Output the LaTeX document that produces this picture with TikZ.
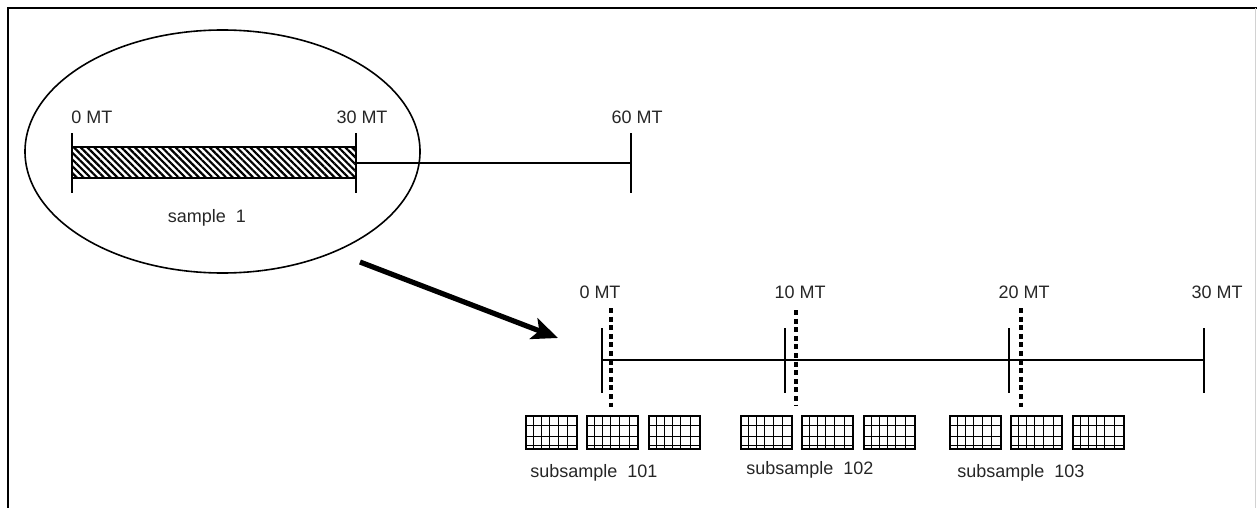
\documentclass[tikz,border=0pt]{standalone}
\usepackage{fontspec}
\setmainfont{Liberation Sans}
\usetikzlibrary{arrows.meta,positioning,calc,shapes.geometric,patterns.meta}
\tikzset{
  frameline/.style={draw=black,line width=1.2pt},
  scaleline/.style={draw=black,line width=1pt},
  tickline/.style={draw=black,line width=1.1pt},
  cutline/.style={draw=black,line width=2.3pt,dash pattern=on 2.5pt off 1.8pt},
  zoomoval/.style={ellipse,draw=black,line width=0.8pt,minimum width=197.5pt,minimum height=121.5pt,inner sep=0pt},
  hatchbar/.style={draw=black,line width=1pt,pattern={Lines[angle=-45,distance=2.4pt,line width=1.1pt]}},
  mtlabel/.style={font=\fontsize{9}{10}\selectfont,text=black!85,inner sep=0pt,anchor=base},
  sublabel/.style={mtlabel,anchor=base west},
  bigarrow/.style={-{Stealth[length=13pt,width=11pt,inset=3pt]},draw=black,line width=2.6pt},
  subbox/.style={draw=black,line width=1pt,minimum width=25.5pt,minimum height=16.5pt,inner sep=0pt,outer sep=0pt,
    path picture={
      \foreach \f in {0.14,0.3,0.46,0.63,0.82}
        \draw[line width=0.45pt] ($(path picture bounding box.south west)!\f!(path picture bounding box.south east)$) -- ($(path picture bounding box.north west)!\f!(path picture bounding box.north east)$);
      \foreach \f in {0.12,0.39,0.7}
        \draw[line width=0.45pt] ($(path picture bounding box.south west)!\f!(path picture bounding box.north west)$) -- ($(path picture bounding box.south east)!\f!(path picture bounding box.north east)$);
    }}
}
\begin{document}
\begin{tikzpicture}[x=0.5pt,y=-0.5pt,node distance=5.2pt]
  \useasboundingbox (0,0) rectangle (1257,508);
  \draw[frameline] (8,508) -- (8,8) -- (1257,8);
  \draw[gray!35,line width=0.5pt] (1255.5,8) -- (1255.5,508);

  \node[zoomoval] (zoom) at (222.5,151.5) {};
  \draw[hatchbar] (72,147) rectangle (356,178);
  \draw[scaleline] (356,163) -- (631,163);
  \foreach \x in {72,356,631}
    \draw[tickline] (\x,133) -- (\x,193);
  \node[mtlabel,anchor=base west] (top0) at (71,124) {0 MT};
  \node[mtlabel] (top30) at (362,124) {30 MT};
  \node[mtlabel] (top60) at (637,124) {60 MT};
  \node[mtlabel] (sample) at (207,222) {sample~~1};

  \coordinate (from) at (360,262);
  \coordinate (into) at (558,338);
  \draw[bigarrow] (from) -- (into);

  \draw[scaleline] (602,360) -- (1204,360);
  \foreach \x in {602,785,1009,1204}
    \draw[tickline] (\x,328) -- (\x,393);
  \node[mtlabel] (mt0) at (600,298) {0 MT};
  \node[mtlabel] (mt10) at (800,298) {10 MT};
  \node[mtlabel] (mt20) at (1024,298) {20 MT};
  \node[mtlabel] (mt30) at (1217,298) {30 MT};
  \draw[cutline] (611,308) -- (611,407);
  \draw[cutline] (796,310) -- (796,405);
  \draw[cutline] (1021,308) -- (1021,407);

  \node[subbox] (b11) at (551.5,432.5) {};
  \node[subbox,right=of b11] (b12) {};
  \node[subbox,right=of b12] (b13) {};
  \node[subbox] (b21) at (766.5,432.5) {};
  \node[subbox,right=of b21] (b22) {};
  \node[subbox,right=of b22] (b23) {};
  \node[subbox] (b31) at (975.5,432.5) {};
  \node[subbox,right=of b31] (b32) {};
  \node[subbox,right=of b32] (b33) {};

  \node[sublabel] (sub1) at ($(b11.south west)+(4,28)$) {subsample~~101};
  \node[sublabel] (sub2) at ($(b21.south west)+(5,25)$) {subsample~~102};
  \node[sublabel] (sub3) at ($(b31.south west)+(7,28)$) {subsample~~103};
\end{tikzpicture}
\end{document}
